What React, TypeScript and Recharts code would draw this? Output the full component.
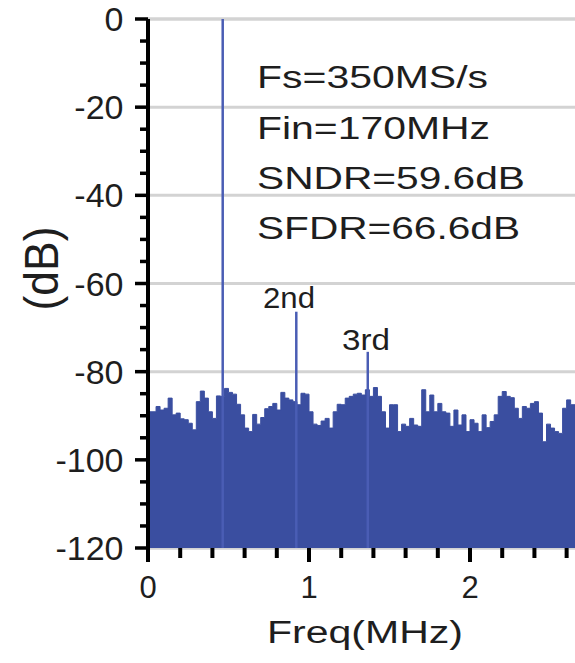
import React from 'react';
import { ComposedChart, Area, Line, XAxis, YAxis, ReferenceLine, CartesianGrid } from 'recharts';

// FFT noise floor (dB), one value per 0.025 MHz bin
const binWidthMHz = 0.025;
const noiseDb = [
  -89.1, -89.1, -87.9, -88.7, -88.3, -86.0, -89.8, -89.4, -90.7, -90.9,
  -91.7, -93.2, -86.8, -84.4, -86.0, -89.1, -90.6, -85.5, -85.6, -83.8,
  -84.7, -85.1, -87.4, -89.8, -92.8, -93.6, -89.7, -91.9, -90.4, -88.4,
  -87.9, -87.2, -88.7, -84.7, -86.0, -86.4, -86.8, -87.5, -84.9, -85.1,
  -89.1, -91.9, -92.2, -91.2, -90.6, -92.8, -89.1, -87.4, -87.5, -86.0,
  -85.6, -85.1, -84.9, -85.3, -84.1, -85.6, -83.6, -85.6, -89.1, -92.8,
  -87.5, -87.5, -93.6, -91.9, -92.4, -90.6, -92.1, -92.4, -84.1, -89.1,
  -85.3, -89.1, -87.2, -89.1, -89.4, -92.4, -88.7, -92.1, -89.8, -93.6,
  -90.9, -91.7, -93.6, -89.8, -92.7, -91.3, -89.8, -85.6, -84.5, -85.6,
  -85.9, -88.3, -90.6, -87.9, -88.3, -87.2, -86.8, -89.4, -95.9, -91.9,
  -92.8, -93.6, -94.0, -88.3, -86.4, -87.5,
];

// Fundamental and harmonic tones
const spikeFreq = [0.464, 0.921, 1.365];
const spikeDb = [0, -66.4, -75.5];

const floorDb = -120;
const xMax = 2.652;
const yTicks = [-120, -115, -110, -105, -100, -95, -90, -85, -80, -75, -70, -65, -60, -55, -50, -45, -40, -35, -30, -25, -20, -15, -10, -5, 0];
const yLabels = [-120, -100, -80, -60, -40, -20, 0];
const xTicks = [0, 0.2, 0.4, 0.6, 0.8, 1, 1.2, 1.4, 1.6, 1.8, 2, 2.2, 2.4, 2.6];
const xLabels = [0, 1, 2];

const annotations = ['Fs=350MS/s', 'Fin=170MHz', 'SNDR=59.6dB', 'SFDR=66.6dB'];
const harmonicLabels = ['2nd', '3rd'];

const FONT = '"Liberation Sans", Arial, Helvetica, sans-serif';
const BLUE = '#3a4ea0';
const TEXT = '#1e1e1e';
const GRID = '#d3d3d3';
const MARGIN = { top: 19, right: 0, bottom: 0, left: 0 };

const noiseData = noiseDb
  .map((v, i) => ({ f: +(i * binWidthMHz).toFixed(3), v }))
  .concat([{ f: xMax, v: noiseDb[noiseDb.length - 1] }]);

const spikeSeries = spikeFreq.map((f, i) => [
  { f, v: floorDb },
  { f, v: spikeDb[i] },
]);

const YTick = (props: any) => {
  const { x, y, payload } = props;
  const v = payload.value;
  const major = yLabels.includes(v);
  return (
    <g>
      <line x1={x - (major ? 13 : 8)} x2={x} y1={y} y2={y} stroke="#000" strokeWidth={3.5} />
      {major && (
        <text x={x - 24.5} y={y} dy="0.355em" textAnchor="end" fontSize={34} fill={TEXT} fontFamily={FONT}>
          {v}
        </text>
      )}
    </g>
  );
};

const XTick = (props: any) => {
  const { x, y, payload } = props;
  const v = payload.value;
  const lbl = xLabels.find((l) => Math.abs(l - v) < 1e-6);
  const major = lbl !== undefined;
  return (
    <g>
      <line x1={x} x2={x} y1={y} y2={y + (major ? 14 : 10)} stroke="#000" strokeWidth={4} />
      {major && (
        <text x={x} y={y + 39} dy="0.355em" textAnchor="middle" fontSize={31} fill={TEXT} fontFamily={FONT}>
          {lbl}
        </text>
      )}
    </g>
  );
};

const annoY = [87.5, 139, 188.5, 238.5];
const annoW = [231, 233, 268, 263];

// Underlay chart: only the horizontal gridlines (drawn beneath the spectrum)
function GridLayer() {
  return (
    <ComposedChart width={575} height={663} data={noiseData} margin={MARGIN}>
      <CartesianGrid vertical={false} stroke={GRID} strokeWidth={3} />
      <XAxis dataKey="f" type="number" domain={[0, xMax]} height={115} tick={false} axisLine={false} tickLine={false} />
      <YAxis type="number" domain={[floorDb, 0]} ticks={yLabels} width={148} tick={false} axisLine={false} tickLine={false} />
      {yLabels.map((g) => (
        <ReferenceLine key={'g' + g} y={g} stroke={GRID} strokeWidth={3} />
      ))}
      <Area type="stepAfter" dataKey="v" baseValue={floorDb} fill="none" stroke="none" isAnimationActive={false} />
    </ComposedChart>
  );
}

// Main chart: spectrum, tones and axes
function SpectrumLayer() {
  return (
    <ComposedChart width={575} height={663} data={noiseData} margin={MARGIN}>
      <XAxis
        dataKey="f"
        type="number"
        domain={[0, xMax]}
        ticks={xTicks}
        interval={0}
        axisLine={false}
        tickLine={false}
        tickSize={0}
        tickMargin={0}
        height={115}
        tick={<XTick />}
      />
      <YAxis
        type="number"
        domain={[floorDb, 0]}
        ticks={yTicks}
        interval={0}
        width={148}
        axisLine={{ stroke: '#000', strokeWidth: 4 }}
        tickLine={false}
        tickSize={0}
        tickMargin={0}
        tick={<YTick />}
      />
      <Area
        type="stepAfter"
        dataKey="v"
        baseValue={floorDb}
        fill={BLUE}
        fillOpacity={1}
        stroke={BLUE}
        strokeWidth={1}
        isAnimationActive={false}
        dot={false}
        activeDot={false}
      />
      {spikeSeries.map((d, i) => (
        <Line
          key={'s' + i}
          data={d}
          dataKey="v"
          type="linear"
          stroke="#4a5db4"
          strokeWidth={2.5}
          dot={false}
          activeDot={false}
          isAnimationActive={false}
        />
      ))}
    </ComposedChart>
  );
}

export default function App() {
  return (
    <div style={{ position: 'absolute', left: 0, top: 0, width: 575, height: 663, background: '#fff' }}>
      <div style={{ position: 'absolute', left: 0, top: 0 }}>
        <GridLayer />
      </div>
      <div style={{ position: 'absolute', left: 0, top: 0 }}>
        <SpectrumLayer />
      </div>
      <svg
        width={575}
        height={663}
        style={{ position: 'absolute', left: 0, top: 0, pointerEvents: 'none' }}
      >
        {annotations.map((t, i) => (
          <text key={t} x={257} y={annoY[i]} fontSize={31} fill={TEXT} fontFamily={FONT} textLength={annoW[i]} lengthAdjust="spacingAndGlyphs">
            {t}
          </text>
        ))}
        <text x={263} y={308} fontSize={29} fill={TEXT} fontFamily={FONT} textLength={52} lengthAdjust="spacingAndGlyphs">
          {harmonicLabels[0]}
        </text>
        <text x={342} y={350} fontSize={29} fill={TEXT} fontFamily={FONT} textLength={48} lengthAdjust="spacingAndGlyphs">
          {harmonicLabels[1]}
        </text>
        <text x={267} y={643} fontSize={31} fill={TEXT} fontFamily={FONT} textLength={196} lengthAdjust="spacingAndGlyphs">
          Freq(MHz)
        </text>
        <text
          transform="translate(58,268.5) rotate(-90)"
          textAnchor="middle"
          fontSize={48}
          fill={TEXT}
          fontFamily={FONT}
          textLength={84}
          lengthAdjust="spacingAndGlyphs"
        >
          (dB)
        </text>
      </svg>
    </div>
  );
}
